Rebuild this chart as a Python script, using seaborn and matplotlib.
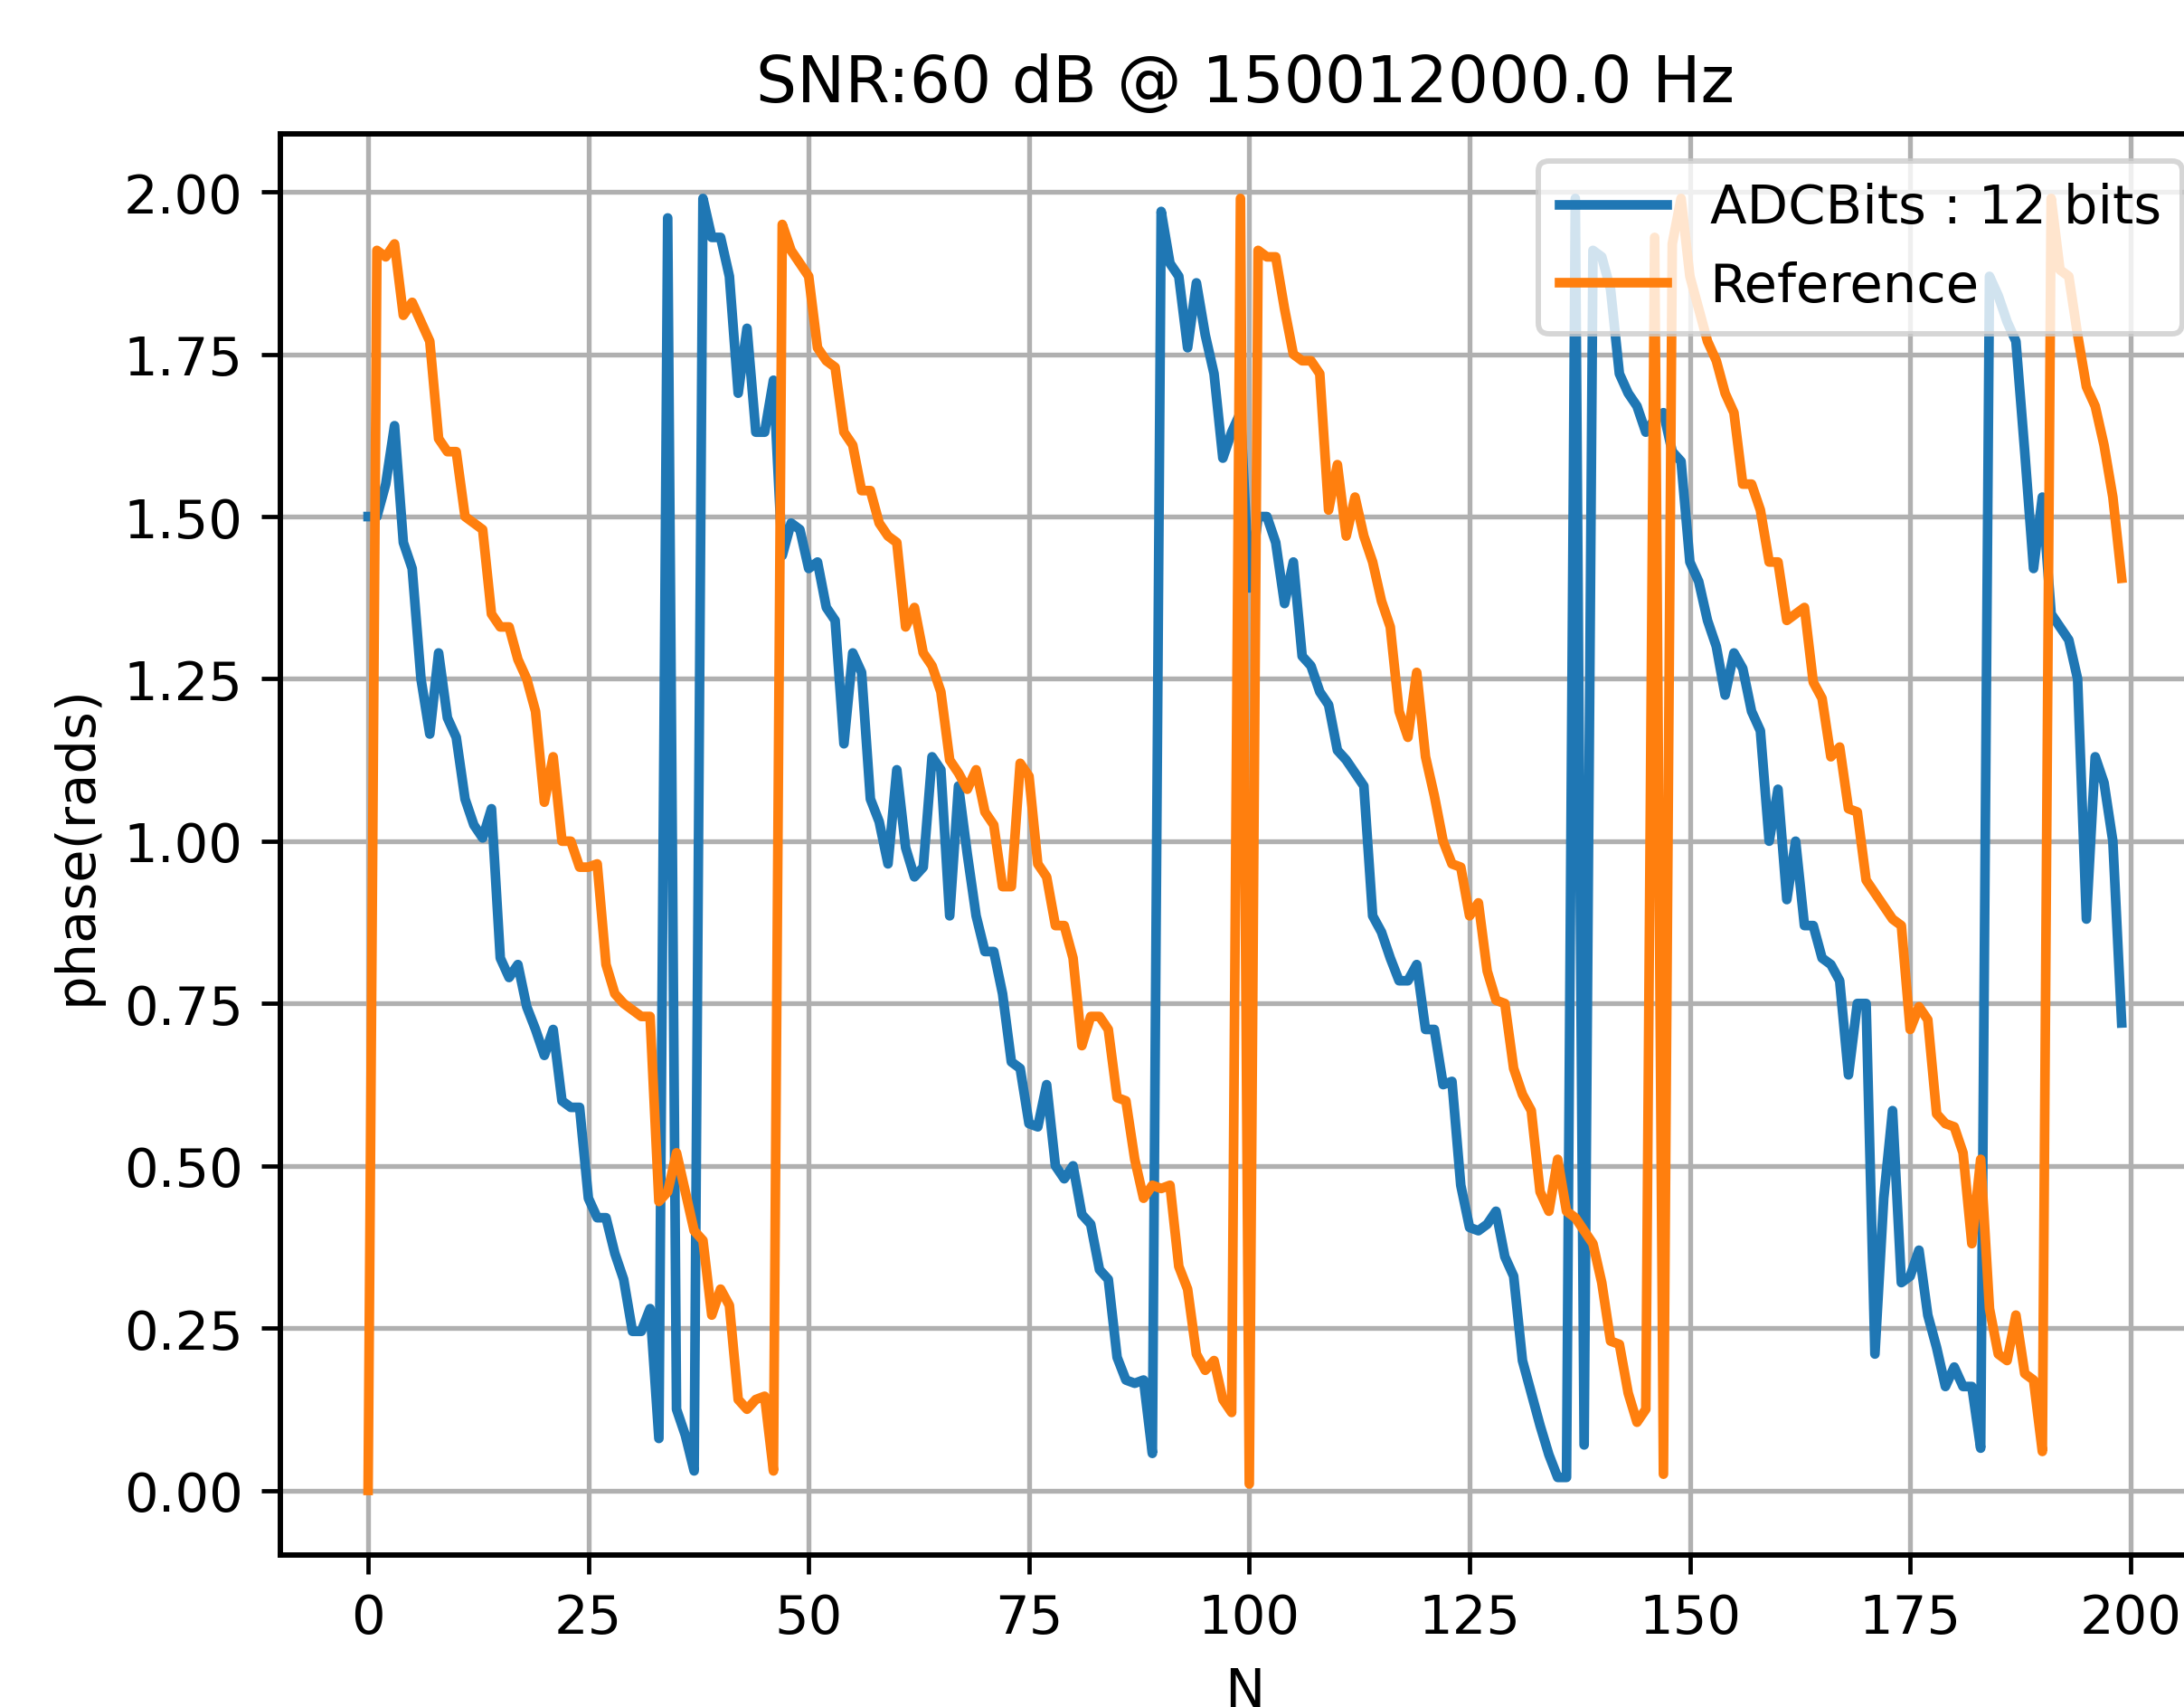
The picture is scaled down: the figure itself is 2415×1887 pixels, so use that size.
import numpy as np
import pandas as pd
import matplotlib
matplotlib.use("Agg")
import matplotlib.pyplot as plt
import seaborn as sns

# ---- data ----
reference_phase = [
    0.00, 1.91, 1.90, 1.92, 1.81, 1.83, 1.80, 1.77, 1.62, 1.60,
    1.60, 1.50, 1.49, 1.48, 1.35, 1.33, 1.33, 1.28, 1.25, 1.20,
    1.06, 1.13, 1.00, 1.00, 0.96, 0.96, 0.965, 0.81, 0.765, 0.75,
    0.74, 0.73, 0.73, 0.445, 0.46, 0.52, 0.46, 0.40, 0.385, 0.27,
    0.31, 0.285, 0.14, 0.125, 0.14, 0.145, 0.03, 1.95, 1.91, 1.89,
    1.87, 1.76, 1.74, 1.73, 1.63, 1.61, 1.54, 1.54, 1.49, 1.47,
    1.46, 1.33, 1.36, 1.29, 1.27, 1.23, 1.125, 1.105, 1.08, 1.11,
    1.045, 1.025, 0.93, 0.93, 1.12, 1.10, 0.965, 0.945, 0.87, 0.87,
    0.82, 0.685, 0.73, 0.73, 0.71, 0.605, 0.60, 0.51, 0.45, 0.47,
    0.465, 0.47, 0.345, 0.31, 0.21, 0.185, 0.20, 0.14, 0.12, 1.99,
    0.01, 1.91, 1.90, 1.90, 1.82, 1.75, 1.74, 1.74, 1.72, 1.51,
    1.58, 1.47, 1.53, 1.47, 1.43, 1.37, 1.33, 1.20, 1.16, 1.26,
    1.13, 1.07, 1.00, 0.965, 0.96, 0.885, 0.905, 0.80, 0.755, 0.75,
    0.65, 0.61, 0.585, 0.46, 0.43, 0.51, 0.43, 0.42, 0.40, 0.38,
    0.32, 0.23, 0.225, 0.15, 0.105, 0.125, 1.93, 0.025, 1.92, 1.99,
    1.87, 1.82, 1.77, 1.74, 1.69, 1.66, 1.55, 1.55, 1.51, 1.43,
    1.43, 1.34, 1.35, 1.36, 1.245, 1.22, 1.13, 1.145, 1.05, 1.045,
    0.94, 0.92, 0.90, 0.88, 0.87, 0.71, 0.745, 0.725, 0.58, 0.565,
    0.56, 0.52, 0.38, 0.51, 0.28, 0.21, 0.20, 0.27, 0.18, 0.17,
    0.06, 1.99, 1.88, 1.87, 1.78, 1.70, 1.67, 1.61, 1.53, 1.405,
]

adc_phase = [
    1.50, 1.50, 1.55, 1.64, 1.46, 1.42, 1.25, 1.165, 1.29, 1.19,
    1.16, 1.065, 1.025, 1.005, 1.05, 0.82, 0.79, 0.81, 0.745, 0.71,
    0.67, 0.71, 0.60, 0.59, 0.59, 0.45, 0.42, 0.42, 0.365, 0.325,
    0.245, 0.245, 0.28, 0.08, 1.96, 0.125, 0.085, 0.03, 1.99, 1.93,
    1.93, 1.87, 1.69, 1.79, 1.63, 1.63, 1.71, 1.44, 1.49, 1.48,
    1.42, 1.43, 1.36, 1.34, 1.15, 1.29, 1.26, 1.065, 1.03, 0.965,
    1.11, 0.99, 0.945, 0.96, 1.13, 1.11, 0.885, 1.085, 0.98, 0.885,
    0.83, 0.83, 0.765, 0.66, 0.65, 0.565, 0.56, 0.625, 0.50, 0.48,
    0.50, 0.425, 0.41, 0.34, 0.325, 0.205, 0.17, 0.165, 0.17, 0.057,
    1.97, 1.89, 1.87, 1.76, 1.86, 1.78, 1.72, 1.59, 1.63, 1.66,
    1.39, 1.50, 1.50, 1.46, 1.366, 1.43, 1.285, 1.27, 1.23, 1.21,
    1.14, 1.125, 1.105, 1.085, 0.885, 0.86, 0.82, 0.785, 0.785, 0.81,
    0.71, 0.71, 0.625, 0.63, 0.47, 0.405, 0.40, 0.41, 0.43, 0.36,
    0.33, 0.20, 0.15, 0.10, 0.055, 0.02, 0.02, 1.99, 0.07, 1.91,
    1.90, 1.85, 1.72, 1.69, 1.67, 1.63, 1.65, 1.66, 1.60, 1.585,
    1.43, 1.40, 1.34, 1.30, 1.225, 1.29, 1.266, 1.20, 1.17, 1.00,
    1.08, 0.91, 1.00, 0.87, 0.87, 0.82, 0.81, 0.785, 0.64, 0.75,
    0.75, 0.21, 0.45, 0.585, 0.32, 0.33, 0.37, 0.27, 0.22, 0.16,
    0.19, 0.16, 0.16, 0.065, 1.87, 1.84, 1.80, 1.77, 1.60, 1.42,
    1.53, 1.35, 1.33, 1.31, 1.25, 0.88, 1.13, 1.09, 1.00, 0.72,
]

sample_index = list(range(len(reference_phase)))

series_labels = ["ADCBits : 12 bits", "Reference"]
title_text = "SNR:60 dB @ 150012000.0 Hz"
x_label = "N"
y_label = "phase(rads)"

# ---- figure ----
plt.style.use("default")
plt.rcParams["axes.linewidth"] = 1.0
DPI = 427
fig = plt.figure(figsize=(2415 / DPI, 1888 / DPI), dpi=DPI)
ax = fig.add_axes([0.1284, 0.0890, 0.8832, 0.8321])

df_adc = pd.DataFrame({"N": sample_index, "phase": adc_phase})
df_ref = pd.DataFrame({"N": sample_index, "phase": reference_phase})

sns.lineplot(data=df_adc, x="N", y="phase", ax=ax, color="#1f77b4",
             label=series_labels[0], linewidth=1.8, estimator=None, sort=False)
sns.lineplot(data=df_ref, x="N", y="phase", ax=ax, color="#ff7f0e",
             label=series_labels[1], linewidth=1.8, estimator=None, sort=False)

ax.set_xlim(-9.95, 208.95)
ax.set_ylim(-0.0995, 2.0895)
ax.set_xticks([0, 25, 50, 75, 100, 125, 150, 175, 200])
ax.set_yticks([0.0, 0.25, 0.5, 0.75, 1.0, 1.25, 1.5, 1.75, 2.0])
ax.yaxis.set_major_formatter(matplotlib.ticker.FormatStrFormatter("%.2f"))
ax.grid(True, linewidth=0.9)
ax.set_title(title_text)
ax.set_xlabel(x_label)
ax.set_ylabel(y_label)
ax.legend(loc="upper right")

fig.savefig("out.png", dpi=DPI)
